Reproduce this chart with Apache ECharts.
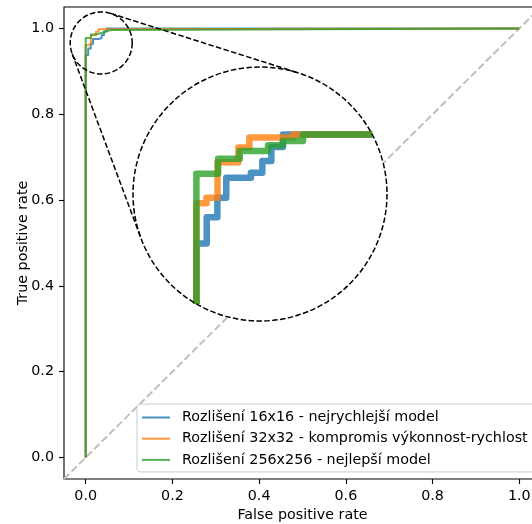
<!DOCTYPE html>
<html>
<head>
<meta charset="utf-8">
<script src="https://cdn.jsdelivr.net/npm/echarts@6/dist/echarts.min.js"></script>
<style>
  html, body { margin: 0; padding: 0; background: #fff; }
  #chart { width: 532px; height: 524px; }
</style>
</head>
<body>
<div id="chart"></div>
<script>
// ROC curve corner points: false positive rate / true positive rate
const fpr16 = [0, 0, 0.0058, 0.0058, 0.0118, 0.0118, 0.0168, 0.0168, 0.0307, 0.0307, 0.0371, 0.0371, 0.0422, 0.0422, 0.0487, 0.0487, 1];
const tpr16 = [0, 0.938, 0.938, 0.953, 0.953, 0.964, 0.964, 0.9755, 0.9755, 0.9783, 0.9783, 0.985, 0.985, 0.993, 0.993, 1, 1];

const fpr32 = [0, 0, 0.0057, 0.0057, 0.0119, 0.0119, 0.0236, 0.0236, 0.0298, 0.0298, 0.0544, 0.0544, 1];
const tpr32 = [0, 0.961, 0.961, 0.964, 0.964, 0.9842, 0.9842, 0.9926, 0.9926, 0.9983, 0.9983, 1, 1];

const fpr256 = [0, 0, 0.0122, 0.0122, 0.0244, 0.0244, 0.0403, 0.0403, 0.0487, 0.0487, 0.060, 0.060, 1];
const tpr256 = [0, 0.9777, 0.9777, 0.9862, 0.9862, 0.9906, 0.9906, 0.994, 0.994, 0.9964, 0.9964, 1, 1];

const seriesNames = [
  'Rozlišení 16x16 - nejrychlejší model',
  'Rozlišení 32x32 - kompromis výkonnost-rychlost',
  'Rozlišení 256x256 - nejlepší model'
];
const seriesColors = ['#1f77b4', '#ff7f0e', '#2ca02c'];

// axis ticks and the chance diagonal (spans the whole axes range)
const tickValues = [0, 0.2, 0.4, 0.6, 0.8, 1.0];
const axisRange = [-0.05, 1.05];
const chanceLine = [-0.05, 1.05];

// magnified region: data centre of the small circle
const zoomCenter = [0.0358, 0.9662];

// layout (pixels)
const FONT = 'DejaVu Sans';
const FS = 14.3;
const mainGrid = { left: 64, top: 7, width: 477, height: 472 };
const smallRadius = 31;
const bigCenter = [260, 194];
const bigRadius = 127;
const dash = [5.5, 2.4];

const curves = [[fpr16, tpr16], [fpr32, tpr32], [fpr256, tpr256]];
const pairs = (xs, ys) => xs.map((x, i) => [x, ys[i]]);

const chart = echarts.init(document.getElementById('chart'), null, { renderer: 'canvas' });

function valueAxis(name, gap) {
  return {
    type: 'value',
    gridIndex: 0,
    min: axisRange[0],
    max: axisRange[1],
    splitLine: { show: false },
    axisLine: { show: false, onZero: false },
    axisTick: {
      show: true, inside: false, length: 5,
      customValues: tickValues,
      lineStyle: { color: '#000', width: 1.1 }
    },
    axisLabel: {
      show: true,
      customValues: tickValues,
      formatter: v => v.toFixed(1),
      margin: 10,
      color: '#000', fontSize: FS, fontFamily: FONT
    },
    name: name,
    nameGap: gap,
    nameMoveOverlap: false,
    nameLocation: 'middle',
    nameTextStyle: { color: '#000', fontSize: FS, fontFamily: FONT }
  };
}

function baseOption() {
  return {
    animation: false,
    grid: [
      Object.assign({
        show: true, borderColor: '#000', borderWidth: 1.1, backgroundColor: 'transparent',
        containLabel: false, outerBoundsMode: 'none'
      }, mainGrid)
    ],
    xAxis: [valueAxis('False positive rate', 29.5)],
    yAxis: [valueAxis('True positive rate', 34)],
    legend: {
      data: seriesNames,
      orient: 'vertical',
      left: 137,
      top: 404,
      padding: [6.5, 10, 5, 5],
      itemWidth: 28,
      itemHeight: 14,
      itemGap: 7.2,
      icon: 'path://M0,0H28V2H0Z',
      backgroundColor: 'rgba(255,255,255,0.8)',
      borderColor: '#cccccc',
      borderWidth: 1,
      borderRadius: 3,
      z: 10,
      selectedMode: false,
      itemStyle: { opacity: 0.8 },
      textStyle: { color: '#000', fontSize: FS, fontFamily: FONT, padding: [0, 0, 0, 7] }
    },
    series: [
      {
        type: 'line', name: 'chance', xAxisIndex: 0, yAxisIndex: 0,
        data: [[chanceLine[0], chanceLine[0]], [chanceLine[1], chanceLine[1]]],
        symbol: 'none', silent: true, z: 1,
        lineStyle: { color: '#bfbfbf', width: 2, type: [7.4, 3.2] }
      }
    ].concat(curves.map((c, i) => ({
      type: 'line', name: seriesNames[i], xAxisIndex: 0, yAxisIndex: 0,
      data: pairs(c[0], c[1]),
      symbol: 'none', silent: true, z: 2,
      color: seriesColors[i],
      itemStyle: { color: seriesColors[i] },
      lineStyle: { color: seriesColors[i], width: 2, opacity: 0.8, join: 'round' }
    })))
  };
}

chart.setOption(baseOption());

// pixel scale of the main axes
const p0 = chart.convertToPixel({ gridIndex: 0 }, [0, 0]);
const p1 = chart.convertToPixel({ gridIndex: 0 }, [1, 1]);
const pxPerX = p1[0] - p0[0];
const pxPerY = p0[1] - p1[1];
const smallCenter = chart.convertToPixel({ gridIndex: 0 }, zoomCenter);

// data half-extent of the magnified window
const ax = smallRadius / pxPerX;
const ay = smallRadius / pxPerY;

// clip a polyline to the ellipse that the circle occupies in data space
function clipToEllipse(xs, ys) {
  const cx = zoomCenter[0], cy = zoomCenter[1];
  const out = [];
  let last = null;
  for (let i = 0; i < xs.length - 1; i++) {
    const x0 = xs[i], y0 = ys[i], x1 = xs[i + 1], y1 = ys[i + 1];
    const px = (x0 - cx) / ax, py = (y0 - cy) / ay;
    const dx = (x1 - x0) / ax, dy = (y1 - y0) / ay;
    const a = dx * dx + dy * dy;
    if (a === 0) continue;
    const b = 2 * (px * dx + py * dy);
    const c = px * px + py * py - 1;
    const disc = b * b - 4 * a * c;
    if (disc <= 0) continue;
    const s = Math.sqrt(disc);
    const t0 = Math.max(0, (-b - s) / (2 * a));
    const t1 = Math.min(1, (-b + s) / (2 * a));
    if (t0 >= t1) continue;
    const q0 = [x0 + (x1 - x0) * t0, y0 + (y1 - y0) * t0];
    const q1 = [x0 + (x1 - x0) * t1, y0 + (y1 - y0) * t1];
    if (!last || Math.abs(last[0] - q0[0]) > 1e-12 || Math.abs(last[1] - q0[1]) > 1e-12) {
      if (last) out.push('-');
      out.push(q0);
    }
    out.push(q1);
    last = q1;
  }
  return out;
}

// external tangent lines joining the two circles
function tangents(c1, r1, c2, r2) {
  const dx = c2[0] - c1[0], dy = c2[1] - c1[1];
  const L = Math.hypot(dx, dy);
  const th = Math.atan2(dy, dx);
  const ph = Math.acos((r1 - r2) / L);
  return [th + ph, th - ph].map(a => {
    const n = [Math.cos(a), Math.sin(a)];
    return { x1: c1[0] + r1 * n[0], y1: c1[1] + r1 * n[1], x2: c2[0] + r2 * n[0], y2: c2[1] + r2 * n[1] };
  });
}

const opt = baseOption();
opt.grid.push({
  left: bigCenter[0] - bigRadius, top: bigCenter[1] - bigRadius,
  width: 2 * bigRadius, height: 2 * bigRadius, show: false,
  containLabel: false, outerBoundsMode: 'none'
});
opt.xAxis.push({ type: 'value', gridIndex: 1, show: false,
  min: zoomCenter[0] - ax, max: zoomCenter[0] + ax, splitLine: { show: false } });
opt.yAxis.push({ type: 'value', gridIndex: 1, show: false,
  min: zoomCenter[1] - ay, max: zoomCenter[1] + ay, splitLine: { show: false } });

curves.forEach((c, i) => {
  opt.series.push({
    type: 'line', name: 'detail ' + i, xAxisIndex: 1, yAxisIndex: 1,
    data: clipToEllipse(c[0], c[1]),
    symbol: 'none', silent: true, clip: false, z: 4,
    lineStyle: { color: seriesColors[i], width: 6.5, opacity: 0.8, join: 'round', cap: 'butt' }
  });
});

const dashStyle = { fill: 'none', stroke: '#000', lineWidth: 1.5, lineDash: dash };
opt.graphic = [
  { type: 'circle', silent: true, z: 3,
    shape: { cx: bigCenter[0], cy: bigCenter[1], r: bigRadius },
    style: { fill: '#fff', stroke: 'none' } },
  { type: 'circle', silent: true, z: 5,
    shape: { cx: bigCenter[0], cy: bigCenter[1], r: bigRadius }, style: dashStyle },
  { type: 'circle', silent: true, z: 5,
    shape: { cx: smallCenter[0], cy: smallCenter[1], r: smallRadius }, style: dashStyle }
].concat(tangents(smallCenter, smallRadius, bigCenter, bigRadius).map(t => ({
  type: 'line', silent: true, z: 5, shape: t, style: { stroke: '#000', lineWidth: 1.5, lineDash: dash }
})));

chart.setOption(opt, true);
</script>
</body>
</html>
